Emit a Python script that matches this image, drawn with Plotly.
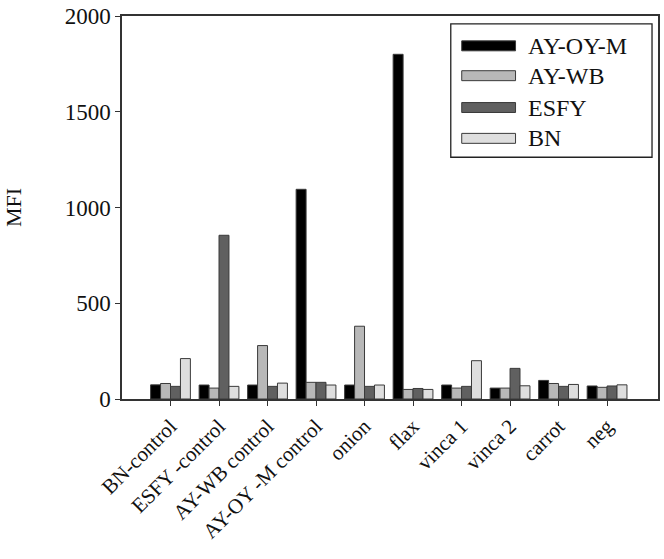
import plotly.graph_objects as go

categories = ["BN-control", "ESFY -control", "AY-WB control", "AY-OY -M control",
              "onion", "flax", "vinca 1", "vinca 2", "carrot", "neg"]
ay_oy_m = [74, 73, 73, 1095, 73, 1800, 73, 57, 97, 68]
ay_wb = [81, 57, 279, 87, 380, 50, 57, 57, 81, 61]
esfy = [66, 855, 66, 87, 66, 55, 66, 160, 66, 68]
bn = [211, 66, 83, 73, 73, 50, 200, 69, 76, 74]

series = [("AY-OY-M", ay_oy_m, "#000000"),
          ("AY-WB", ay_wb, "#b8b8b8"),
          ("ESFY", esfy, "#606060"),
          ("BN", bn, "#dedede")]

FONT = "Liberation Serif"
fig = go.Figure()
for name, vals, col in series:
    fig.add_trace(go.Bar(x=categories, y=vals, name=name, marker_color=col,
                         marker_line_color="#3a3a3a", marker_line_width=1,
                         showlegend=False))

# custom legend (wide swatches like the original); coordinates in page pixels
L, B, W, H = 122, 399, 538, 385
def px(x): return (x - L) / W
def py(y): return (B - y) / H
shapes = [dict(type="rect", xref="paper", yref="paper",
               x0=px(452), x1=px(654), y0=py(156), y1=py(22),
               line=dict(color="#222", width=1.3), fillcolor="white", layer="above")]
annotations = []
rows = [44, 74, 106, 137]
for (name, vals, col), ry in zip(series, rows):
    shapes.append(dict(type="rect", xref="paper", yref="paper",
                       x0=px(463), x1=px(517), y0=py(ry + 5), y1=py(ry - 5),
                       line=dict(color="#3a3a3a", width=1), fillcolor=col, layer="above"))
    annotations.append(dict(xref="paper", yref="paper", x=px(528), y=py(ry),
                            text=name, showarrow=False, xanchor="left", yanchor="middle",
                            font=dict(family=FONT, size=24, color="#111")))

fig.update_layout(
    width=664, height=559,
    margin=dict(l=122, r=4, t=14, b=160),
    paper_bgcolor="white", plot_bgcolor="white",
    barmode="group", bargap=0.18, bargroupgap=0,
    font=dict(family=FONT, size=21, color="#111"),
    shapes=shapes, annotations=annotations,
    xaxis=dict(range=[-1, 10.05], tickangle=-45, ticks="outside", ticklen=5,
               tickcolor="#333", showline=True, linecolor="#333", linewidth=1.5,
               mirror=True, showgrid=False, tickfont=dict(family=FONT, size=21, color="#111")),
    yaxis=dict(range=[0, 2000], tickvals=[0, 500, 1000, 1500, 2000], ticks="outside",
               ticklen=5, tickcolor="#333", showline=True, linecolor="#333", linewidth=1.5,
               mirror=True, showgrid=False, zeroline=False,
               title=dict(text="MFI", font=dict(family=FONT, size=22), standoff=37),
               tickfont=dict(family=FONT, size=23, color="#111")),
)
fig.write_html("out.html", config={"displayModeBar": False},
               post_script="document.body.style.margin='0';")
